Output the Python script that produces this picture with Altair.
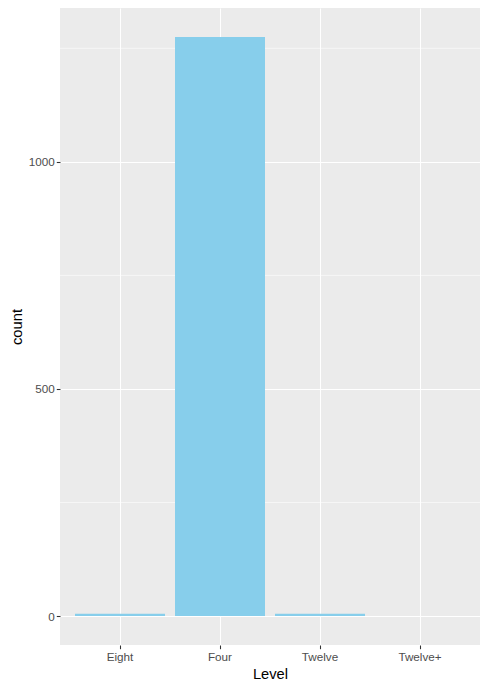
import altair as alt
import pandas as pd

levels = ["Eight", "Four", "Twelve", "Twelve+"]
counts = [5, 1275, 5, 0]
major_breaks = [0, 500, 1000]
minor_breaks = [250, 750, 1250]

df = pd.DataFrame({"Level": levels, "count": counts})
minor_df = pd.DataFrame({"v": minor_breaks})

ymax = max(counts)
yscale = alt.Scale(domain=[-0.05 * ymax, 1.05 * ymax], nice=False, zero=False)
xscale = alt.Scale(domain=levels, paddingInner=0.1, paddingOuter=0.15)

yaxis = alt.Axis(
    title="count",
    values=major_breaks,
    format="d",
    grid=True,
    labelPadding=2,
    titlePadding=4,
)

minor = alt.Chart(minor_df).mark_rule(color="white", strokeWidth=0.55).encode(
    y=alt.Y("v:Q", scale=yscale, axis=yaxis, title="count")
)

bars = alt.Chart(df).mark_bar(color="#87CEEB").encode(
    x=alt.X(
        "Level:N",
        scale=xscale,
        sort=levels,
        axis=alt.Axis(
            title="Level",
            labelAngle=0,
            grid=True,
            bandPosition=0.5,
            labelPadding=3,
            titlePadding=3,
        ),
    ),
    y=alt.Y("count:Q", scale=yscale, axis=yaxis, title="count"),
    y2=alt.datum(0),
)

chart = (
    alt.layer(minor, bars)
    .properties(
        width=420,
        height=637,
        autosize=alt.AutoSizeParams(type="none"),
        padding={"left": 52, "top": 0, "right": 0, "bottom": 37},
    )
    .configure_view(fill="#EBEBEB", stroke=None)
    .configure_axis(
        domain=False,
        tickColor="#333333",
        tickSize=3.7,
        tickWidth=1.07,
        labelColor="#4D4D4D",
        labelFont="Liberation Sans",
        labelFontSize=11.7,
        titleFont="Liberation Sans",
        titleFontSize=14.7,
        titleFontWeight="normal",
        titleColor="#000000",
        gridColor="white",
        gridWidth=1.07,
    )
)

chart.save("out.html", embed_options={"renderer": "svg", "actions": False})
